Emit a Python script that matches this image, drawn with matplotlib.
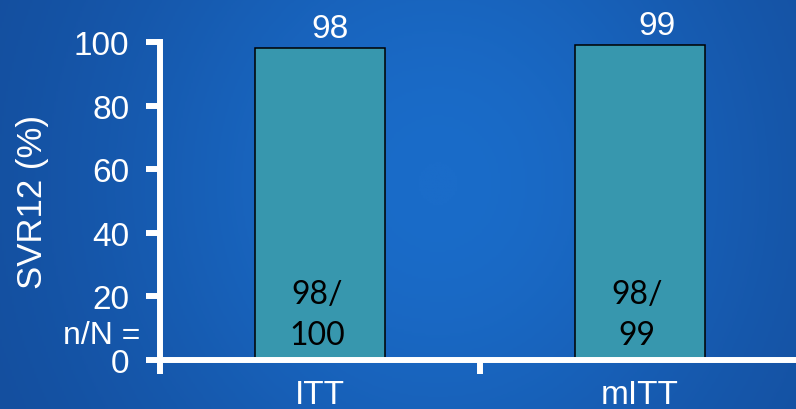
import numpy as np
import matplotlib
matplotlib.use("Agg")
import matplotlib.pyplot as plt
from matplotlib.colors import LinearSegmentedColormap

# data
groups = ["ITT", "mITT"]
svr12 = [98, 99]
n_resp = [98, 98]
n_total = [100, 99]
yticks = [0, 20, 40, 60, 80, 100]

plt.rcParams["font.family"] = ["Liberation Sans", "DejaVu Sans"]

fig = plt.figure(figsize=(7.96, 4.10), dpi=100)

# blue slide background
bg = fig.add_axes([0, 0, 1, 1], zorder=0)
gx, gy = np.meshgrid(np.linspace(0, 1, 400), np.linspace(0, 1, 200))
glow = np.exp(-((gx - 0.55) ** 2 / 0.2 + (gy - 0.45) ** 2 / 0.9))
cmap = LinearSegmentedColormap.from_list("slide", ["#144f9f", "#1a6cc9"])
bg.imshow(glow, cmap=cmap, aspect="auto", extent=[0, 1, 0, 1], origin="upper")
bg.axis("off")

ax = fig.add_axes([160 / 796, 49 / 410, 640 / 796, 318 / 410], zorder=1)
ax.patch.set_alpha(0)

x = np.arange(len(groups))
bars = ax.bar(x, svr12, width=0.405, color="#3797ae", edgecolor="black", linewidth=1.1)

for i, v in enumerate(svr12):
    ax.annotate(str(v), xy=(x[i], v), xytext=(7 + 5 * i, 8), textcoords="offset points",
                ha="center", va="baseline", color="white", fontsize=24)
    ax.annotate(f"{n_resp[i]}/\n{n_total[i]}", xy=(x[i], 0), xytext=(-2, 7),
                textcoords="offset points", ha="center", va="bottom", color="black",
                fontsize=23, family=["Lato", "DejaVu Sans"], linespacing=1.45)

ax.annotate("n/N =", xy=(0, 0), xycoords="axes fraction", xytext=(-14, 12),
            textcoords="offset points", ha="right", va="baseline", color="white", fontsize=23)

ax.set_xlim(-0.5, 1.5)
ax.set_ylim(0, 100)
ax.set_yticks(yticks)
ax.set_xticks([-0.5, 0.5])
ax.set_xticklabels([])
ax.set_xticks(x, minor=True)
ax.set_xticklabels(groups, minor=True)

for s in ["top", "right"]:
    ax.spines[s].set_visible(False)
for s in ["left", "bottom"]:
    ax.spines[s].set_color("white")
    ax.spines[s].set_linewidth(4.3)
    ax.spines[s].set_capstyle("projecting")

ax.tick_params(axis="both", which="major", colors="white", width=4.3, length=10,
               labelsize=24, pad=12)
ax.tick_params(axis="x", which="minor", length=0, colors="white", labelsize=24, pad=14)

ax.set_ylabel("SVR12 (%)", color="white", fontsize=25, labelpad=18)

fig.savefig("out.png", dpi=100)
